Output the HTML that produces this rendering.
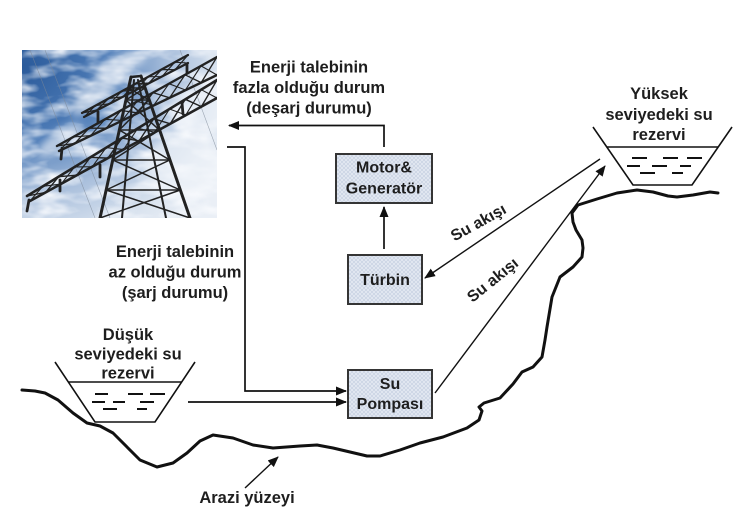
<!DOCTYPE html>
<html><head><meta charset="utf-8">
<style>
html,body{margin:0;padding:0;background:#fff;}
svg{display:block;}
text{font-family:"Liberation Sans",Arial,sans-serif;font-weight:bold;fill:#1e1e1e;}
</style></head><body>
<svg width="742" height="510" viewBox="0 0 742 510" xmlns="http://www.w3.org/2000/svg">
<defs>
<marker id="ah" markerUnits="userSpaceOnUse" markerWidth="11" markerHeight="9" refX="10" refY="4.5" orient="auto">
<path d="M0,0 L11,4.5 L0,9 z" fill="#111"/>
</marker>
<pattern id="hatch" width="4" height="4" patternUnits="userSpaceOnUse">
<rect width="4" height="4" fill="#e2e8f2"/>
<path d="M0,0 L4,4 M4,0 L0,4" stroke="#c4cee0" stroke-width="0.6"/>
</pattern>
<radialGradient id="sky" cx="0" cy="0.1" r="1.25" gradientUnits="objectBoundingBox">
<stop offset="0" stop-color="#2a5a9a"/>
<stop offset="0.35" stop-color="#4f7db8"/>
<stop offset="0.6" stop-color="#a9bfdc"/>
<stop offset="0.85" stop-color="#dce5f0"/>
<stop offset="1" stop-color="#eaeff6"/>
</radialGradient>
<filter id="blur" x="-50%" y="-50%" width="200%" height="200%"><feGaussianBlur stdDeviation="4"/></filter>
<filter id="cl" x="0" y="0" width="100%" height="100%">
<feTurbulence type="fractalNoise" baseFrequency="0.03 0.07" numOctaves="3" seed="5"/>
<feColorMatrix type="matrix" values="0 0 0 0 0.97  0 0 0 0 0.98  0 0 0 0 1  0 0 0 2.2 -0.85"/>
</filter>
<clipPath id="pc"><rect x="22" y="50" width="195" height="168"/></clipPath>
</defs>

<!-- Photo -->
<g clip-path="url(#pc)">
<rect x="22" y="50" width="195" height="168" fill="url(#sky)"/>
<rect x="22" y="50" width="195" height="168" filter="url(#cl)" opacity="0.9"/>
<g filter="url(#blur)" fill="#f4f7fb" opacity="0.6">
<ellipse cx="95" cy="95" rx="30" ry="10" transform="rotate(-40 95 95)"/>
<ellipse cx="60" cy="140" rx="26" ry="9" transform="rotate(-35 60 140)"/>
<ellipse cx="120" cy="65" rx="28" ry="9" transform="rotate(-20 120 65)"/>
<ellipse cx="185" cy="165" rx="40" ry="30"/>
<ellipse cx="200" cy="110" rx="30" ry="25"/>
</g>
<g stroke="#7d8897" stroke-width="0.6" opacity="0.7">
<line x1="30" y1="50" x2="95" y2="218"/>
<line x1="45" y1="50" x2="110" y2="218"/>
<line x1="180" y1="50" x2="217" y2="150"/>
</g>
<!-- tower body -->
<g stroke="#222" fill="none" stroke-linecap="round">
<line x1="100" y1="218" x2="131" y2="77" stroke-width="3"/>
<line x1="190" y1="218" x2="141" y2="76" stroke-width="3"/>
<line x1="122" y1="218" x2="134" y2="80" stroke-width="2"/>
<line x1="166" y1="218" x2="138" y2="80" stroke-width="2"/>
<line x1="131" y1="77" x2="141" y2="76" stroke-width="2.4"/>
<g stroke-width="1.5">
<line x1="125.9" y1="100" x2="149" y2="100"/>
<line x1="119.3" y1="130" x2="159.4" y2="130"/>
<line x1="112.8" y1="160" x2="169.8" y2="160"/>
<line x1="106.2" y1="190" x2="180.3" y2="190"/>
<line x1="128.5" y1="88" x2="145" y2="88"/>
<line x1="125.9" y1="100" x2="159.4" y2="130"/>
<line x1="149" y1="100" x2="119.3" y2="130"/>
<line x1="119.3" y1="130" x2="169.8" y2="160"/>
<line x1="159.4" y1="130" x2="112.8" y2="160"/>
<line x1="112.8" y1="160" x2="180.3" y2="190"/>
<line x1="169.8" y1="160" x2="106.2" y2="190"/>
<line x1="106.2" y1="190" x2="190" y2="218"/>
<line x1="180.3" y1="190" x2="100" y2="218"/>
<line x1="128.5" y1="88" x2="149" y2="100"/>
<line x1="145" y1="88" x2="125.9" y2="100"/>
</g>
<!-- arm A -->
<line x1="82" y1="113" x2="188" y2="55" stroke-width="2.2"/>
<line x1="84" y1="117" x2="188" y2="63" stroke-width="2.2"/>
<polyline points="82,113 97,110 108.5,98.5 123,96.75 135,84 149,83 161.5,69.5 175,69.75 188,55" stroke-width="1.3"/>
<polyline points="84,117 95.25,105.75 110,103.5 121.75,91.25 136,90 148.25,76.75 162,76.5 174.75,62.25 188,63" stroke-width="1.1"/>
<!-- arm B -->
<line x1="57" y1="146" x2="217" y2="57" stroke-width="2.4"/>
<line x1="59" y1="151" x2="217" y2="75" stroke-width="2.4"/>
<polyline points="57,146 74.8,143.4 89,128.2 106.4,128.2 121,110.4 138,113 153,92.6 169.6,97.8 185,74.8 201.2,82.6 217,57" stroke-width="1.3"/>
<polyline points="59,151 73,137 90.6,135.6 105,119.3 122.2,120.4 137,101.5 153.8,105.2 169,83.7 185.4,90 201,65.9 217,75" stroke-width="1.1"/>
<!-- arm C -->
<line x1="27" y1="196" x2="217" y2="80" stroke-width="2.6"/>
<line x1="30" y1="201" x2="217" y2="98" stroke-width="2.6"/>
<polyline points="27,196 45.6,192.4 58.7,176.7 76.75,175.25 90.3,157.3 107.9,158.1 122,138 139.1,140.9 153.7,118.7 170.25,123.75 185.3,99.3 201.4,106.6 217,80" stroke-width="1.4"/>
<polyline points="30,201 42.8,186.3 61.2,184 74.5,167 92.3,166.7 106.2,147.6 123.5,149.5 137.8,128.3 154.7,132.3 169.5,109 185.8,115 201.2,89.7 217,98" stroke-width="1.1"/>
<!-- insulators -->
<g stroke-width="2.8">
<line x1="29" y1="200" x2="27" y2="211"/>
<line x1="62" y1="148" x2="61" y2="159"/>
<line x1="60" y1="180" x2="60" y2="191"/>
<line x1="98" y1="112" x2="98" y2="123"/>
<line x1="100" y1="165" x2="100" y2="177"/>
<line x1="187" y1="64" x2="187" y2="73"/>
<line x1="182" y1="103" x2="183" y2="114"/>
</g>
</g>
</g>

<!-- Top label -->
<text x="309" y="72.5" font-size="16.5" text-anchor="middle">Enerji talebinin</text>
<text x="309" y="93" font-size="16.5" text-anchor="middle">fazla olduğu durum</text>
<text x="309" y="113.5" font-size="16.5" text-anchor="middle">(deşarj durumu)</text>

<!-- Left middle label -->
<text x="175" y="257" font-size="16.5" text-anchor="middle">Enerji talebinin</text>
<text x="175" y="277.5" font-size="16.5" text-anchor="middle">az olduğu durum</text>
<text x="175" y="298" font-size="16.5" text-anchor="middle">(şarj durumu)</text>

<!-- Low reservoir label -->
<text x="128" y="340" font-size="16.5" text-anchor="middle">Düşük</text>
<text x="128" y="359.5" font-size="16.5" text-anchor="middle">seviyedeki su</text>
<text x="128" y="378.5" font-size="16.5" text-anchor="middle">rezervi</text>

<!-- High reservoir label -->
<text x="659" y="99" font-size="16.5" text-anchor="middle">Yüksek</text>
<text x="659" y="120" font-size="16.5" text-anchor="middle">seviyedeki su</text>
<text x="659" y="140" font-size="16.5" text-anchor="middle">rezervi</text>

<!-- Boxes -->
<g stroke="#353535" stroke-width="2" fill="url(#hatch)">
<rect x="336" y="154" width="96" height="49"/>
<rect x="348" y="255" width="74" height="49"/>
<rect x="348" y="370" width="84" height="48"/>
</g>
<text x="384" y="172.5" font-size="16" text-anchor="middle">Motor&amp;</text>
<text x="384" y="193.5" font-size="16" text-anchor="middle">Generatör</text>
<text x="385" y="285" font-size="16" text-anchor="middle">Türbin</text>
<text x="390" y="389" font-size="16" text-anchor="middle">Su</text>
<text x="390" y="409" font-size="16" text-anchor="middle">Pompası</text>

<!-- Connectors -->
<g stroke="#111" stroke-width="1.7" fill="none">
<polyline points="384,147 384,125.5 229,125.5" marker-end="url(#ah)"/>
<polyline points="227,147 245,147 245,391 346,391" marker-end="url(#ah)"/>
<line x1="188" y1="402" x2="346" y2="402" marker-end="url(#ah)"/>
<line x1="384" y1="249" x2="384" y2="207" marker-end="url(#ah)"/>
<line x1="600" y1="159" x2="425" y2="278" stroke-width="1.4" marker-end="url(#ah)"/>
<line x1="435" y1="393" x2="605" y2="166" stroke-width="1.4" marker-end="url(#ah)"/>
<line x1="245" y1="488" x2="278" y2="457" stroke-width="1.4" marker-end="url(#ah)"/>
</g>

<!-- Su akışı labels -->
<text font-size="16" text-anchor="middle" transform="translate(481,227) rotate(-29)">Su akışı</text>
<text font-size="16" text-anchor="middle" transform="translate(496,284) rotate(-39)">Su akışı</text>

<!-- Reservoirs -->
<g stroke="#111" stroke-width="1.6" fill="none" stroke-linejoin="miter">
<polyline points="593,127 633,185 692,185 732,127"/>
<line x1="607" y1="147" x2="718" y2="147"/>
<polyline points="55,362 95,422 155,422 195,362"/>
<line x1="68" y1="382" x2="182" y2="382"/>
</g>
<g stroke="#111" stroke-width="2">
<line x1="632" y1="158" x2="647" y2="158"/>
<line x1="663" y1="158" x2="678" y2="158"/>
<line x1="687" y1="158" x2="702" y2="158"/>
<line x1="627" y1="166" x2="640" y2="166"/>
<line x1="652" y1="166" x2="667" y2="166"/>
<line x1="680" y1="166" x2="691" y2="166"/>
<line x1="640" y1="173" x2="655" y2="173"/>
<line x1="672" y1="173" x2="683" y2="173"/>

<line x1="95" y1="394" x2="108" y2="394"/>
<line x1="128" y1="394" x2="143" y2="394"/>
<line x1="150" y1="394" x2="165" y2="394"/>
<line x1="92" y1="402" x2="105" y2="402"/>
<line x1="113" y1="402" x2="125" y2="402"/>
<line x1="140" y1="402" x2="154" y2="402"/>
<line x1="103" y1="409" x2="117" y2="409"/>
<line x1="137" y1="409" x2="147" y2="409"/>
</g>

<!-- Ground surface -->
<polyline fill="none" stroke="#111" stroke-width="3" stroke-linejoin="round" stroke-linecap="round"
points="22,390 35,391 45,393 58,400 73,413 87,423 100,426 113,433 127,447 140,460 157,467 173,463 187,453 200,441 213,435 233,438 253,445 273,448 300,446 317,445 333,448 350,452 367,456 380,456 400,450 420,443 443,437 467,428 479,420 482,411 479,407 484,403 500,398 513,384 522,372 533,367 542,357 545,340 547,327 552,297 560,277 573,267 582,257 583,248 582,240 576,230 573,222 572,213 578,205 597,199 617,193 637,190 653,192 668,196 677,197 693,195 710,192 718,193"/>

<text x="247" y="503" font-size="16.5" text-anchor="middle">Arazi yüzeyi</text>
</svg>
</body></html>
